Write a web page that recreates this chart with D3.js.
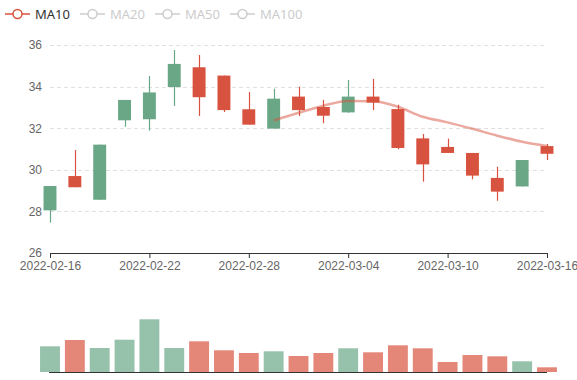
<!DOCTYPE html>
<html>
<head>
<meta charset="utf-8">
<script src="https://cdn.jsdelivr.net/npm/d3@7"></script>
<style>
  body { margin: 0; background: #fff; }
  svg { font-family: "Noto Sans", sans-serif; display: block; }
</style>
</head>
<body>
<svg id="chart"></svg>
<script>
// trading days
const dates = ["2022-02-16", "2022-02-17", "2022-02-18", "2022-02-21", "2022-02-22", "2022-02-23",
  "2022-02-24", "2022-02-25", "2022-02-28", "2022-03-01", "2022-03-02", "2022-03-03", "2022-03-04",
  "2022-03-07", "2022-03-08", "2022-03-09", "2022-03-10", "2022-03-11", "2022-03-14", "2022-03-15", "2022-03-16"];
const opens  = [28.05, 29.70, 28.56, 32.38, 32.43, 33.98, 34.93, 34.53, 32.91, 31.98, 33.52, 33.02, 32.76, 33.52, 32.92, 31.51, 31.10, 30.81, 29.61, 29.20, 31.14];
const closes = [29.22, 29.16, 31.21, 33.36, 33.72, 35.09, 33.49, 32.87, 32.17, 33.42, 32.87, 32.60, 33.52, 33.23, 31.05, 30.26, 30.81, 29.72, 28.95, 30.47, 30.77];
const lows   = [27.46, 29.16, 28.56, 32.07, 31.88, 33.07, 32.59, 32.78, 32.17, 31.98, 32.59, 32.24, 32.74, 32.87, 30.99, 29.43, 30.81, 29.54, 28.51, 29.20, 30.47];
const highs  = [29.22, 30.95, 31.21, 33.36, 34.51, 35.76, 35.52, 34.53, 33.74, 33.90, 34.00, 33.36, 34.32, 34.37, 33.13, 31.72, 31.50, 30.81, 30.15, 30.47, 31.24];
// volume in millions
const volumes = [2.57, 3.20, 2.40, 3.23, 5.27, 2.40, 3.07, 2.17, 1.90, 2.07, 1.60, 1.90, 2.37, 1.97, 2.67, 2.37, 1.00, 1.70, 1.57, 1.07, 0.47];
const ma10 = [null, null, null, null, null, null, null, null, null,
  32.37, 32.74, 33.08, 33.31, 33.30, 33.03, 32.55, 32.28, 31.97, 31.64, 31.35, 31.14];
const legendNames = ["MA10", "MA20", "MA50", "MA100"];
const yTicks = [26, 28, 30, 32, 34, 36];

const width = 577, height = 380;
const upColor = "#6aa786", downColor = "#d8533f";

const svg = d3.select("#chart").attr("width", width).attr("height", height);

const x = d3.scalePoint().domain(dates).range([50, 547]).padding(0);
const step = x.step();
const y = d3.scaleLinear().domain([26, 36]).range([253, 45]);
const yVol = d3.scaleLinear().domain([0, 6]).range([372, 312]);

const rows = dates.map((d, i) => ({
  date: d, open: opens[i], close: closes[i], low: lows[i], high: highs[i],
  vol: volumes[i], ma: ma10[i], up: closes[i] >= opens[i]
}));

// grid lines
svg.append("g").selectAll("line")
  .data(yTicks.filter(t => t !== 26))
  .join("line")
  .attr("x1", 50).attr("x2", 547)
  .attr("y1", d => Math.round(y(d)) + 0.5).attr("y2", d => Math.round(y(d)) + 0.5)
  .attr("stroke", "#e0e0e0")
  .attr("stroke-dasharray", "4,3");

// y axis labels
const yAxis = svg.append("g")
  .attr("transform", "translate(50,0)")
  .call(d3.axisLeft(y).tickValues(yTicks).tickSize(0).tickPadding(8));
yAxis.select(".domain").remove();
yAxis.selectAll("text").attr("fill", "#666").style("font-size", "12px");

// x axis
const xAxis = svg.append("g")
  .attr("transform", "translate(0,253)")
  .call(d3.axisBottom(x).tickValues(dates.filter((d, i) => i % 4 === 0)).tickSize(5).tickPadding(3));
xAxis.select(".domain").attr("stroke", "#333");
xAxis.selectAll(".tick line").attr("stroke", "#333");
xAxis.selectAll("text").attr("fill", "#666").style("font-size", "12px");

// candles
const candles = svg.append("g").selectAll("g")
  .data(rows)
  .join("g");

candles.append("line")
  .attr("x1", d => Math.round(x(d.date)) + 0.5)
  .attr("x2", d => Math.round(x(d.date)) + 0.5)
  .attr("y1", d => y(d.high))
  .attr("y2", d => y(d.low))
  .attr("stroke", d => d.up ? upColor : downColor)
  .attr("stroke-width", 1.2);

const bodyW = step * 0.52;
candles.append("rect")
  .attr("x", d => x(d.date) - bodyW / 2)
  .attr("width", bodyW)
  .attr("y", d => y(Math.max(d.open, d.close)))
  .attr("height", d => Math.max(1, y(Math.min(d.open, d.close)) - y(Math.max(d.open, d.close))))
  .attr("fill", d => d.up ? upColor : downColor);

// MA10 line
const line = d3.line()
  .defined(d => d.ma != null)
  .x(d => x(d.date))
  .y(d => y(d.ma))
  .curve(d3.curveMonotoneX);

svg.append("path")
  .datum(rows)
  .attr("d", line)
  .attr("fill", "none")
  .attr("stroke", downColor)
  .attr("stroke-opacity", 0.5)
  .attr("stroke-width", 2.5);

// volume bars
const barW = step * 0.8;
svg.append("g").selectAll("rect")
  .data(rows)
  .join("rect")
  .attr("x", d => x(d.date) - barW / 2)
  .attr("width", barW)
  .attr("y", d => yVol(d.vol))
  .attr("height", d => yVol(0) - yVol(d.vol))
  .attr("fill", d => d.up ? upColor : downColor)
  .attr("fill-opacity", 0.7);

svg.append("line")
  .attr("x1", 49).attr("x2", 547)
  .attr("y1", yVol(0) + 0.5).attr("y2", yVol(0) + 0.5)
  .attr("stroke", "#333");

// legend
const legend = svg.append("g").selectAll("g")
  .data(legendNames)
  .join("g")
  .attr("transform", (d, i) => `translate(${5 + i * 75},14)`);

legend.append("line")
  .attr("x1", 0).attr("x2", 25)
  .attr("stroke", (d, i) => i === 0 ? downColor : "#ccc")
  .attr("stroke-width", 1.5);
legend.append("circle")
  .attr("cx", 12.5).attr("r", 4.5)
  .attr("fill", "#fff")
  .attr("stroke", (d, i) => i === 0 ? downColor : "#ccc")
  .attr("stroke-width", 1.5);
legend.append("text")
  .attr("x", 30)
  .attr("dy", "0.35em")
  .style("font-size", "13px")
  .attr("fill", (d, i) => i === 0 ? "#333" : "#ccc")
  .text(d => d);
</script>
</body>
</html>
